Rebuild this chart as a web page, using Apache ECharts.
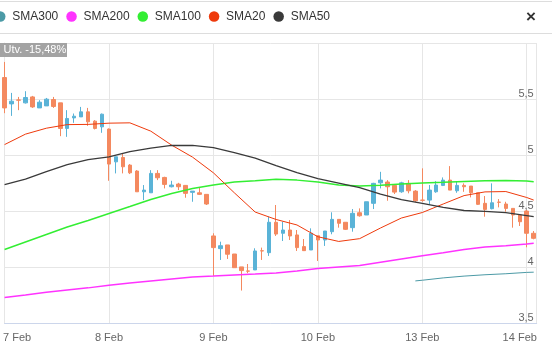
<!DOCTYPE html>
<html><head><meta charset="utf-8">
<script src="https://cdn.jsdelivr.net/npm/echarts@6/dist/echarts.min.js"></script>
<style>html,body{margin:0;padding:0;background:#fff}#c{width:552px;height:349px}</style>
</head><body><div id="c"></div><script>
// ---- data ----
const dayLabels = ['7 Feb', '8 Feb', '9 Feb', '10 Feb', '13 Feb', '14 Feb'];
const barsPerDay = 15;
const candleOpen = [5.692,5.457,5.492,5.466,5.519,5.421,5.439,5.496,5.466,5.238,5.332,5.341,5.386,5.303,5.252,
  5.232,4.940,4.979,4.911,4.858,4.673,4.664,4.837,4.801,4.718,4.742,4.730,4.668,4.664,4.650,
  4.279,4.166,4.199,4.118,4.003,3.967,3.976,4.147,4.130,4.401,4.303,4.332,4.288,4.184,4.154,
  4.281,4.243,4.317,4.427,4.401,4.353,4.486,4.466,4.570,4.753,4.760,4.730,4.673,4.748,4.679,
  4.599,4.599,4.673,4.730,4.777,4.682,4.730,4.724,4.664,4.570,4.522,4.581,4.564,4.525,4.466,
  4.501,4.303];
const candleClose = [5.421,5.481,5.490,5.514,5.430,5.472,5.499,5.434,5.238,5.327,5.347,5.386,5.297,5.238,5.365,
  4.920,4.985,4.896,4.842,4.673,4.688,4.837,4.798,4.739,4.733,4.718,4.659,4.679,4.650,4.564,
  4.175,4.192,4.116,3.996,3.970,3.965,4.145,4.145,4.401,4.296,4.332,4.279,4.175,4.148,4.303,
  4.243,4.323,4.427,4.392,4.338,4.481,4.459,4.584,4.748,4.777,4.718,4.670,4.753,4.682,4.593,
  4.597,4.688,4.733,4.777,4.688,4.730,4.718,4.664,4.561,4.516,4.575,4.579,4.525,4.466,4.406,
  4.303,4.258];
const candleLow = [5.374,5.350,5.401,5.460,5.421,5.421,5.439,5.421,5.169,5.163,5.288,5.341,5.261,5.229,5.199,
  4.771,4.837,4.837,4.831,4.673,4.599,4.664,4.777,4.703,4.712,4.688,4.620,4.584,4.644,4.555,
  3.922,4.065,4.074,3.996,3.792,3.947,3.976,4.065,4.101,4.279,4.234,4.243,4.145,4.148,4.154,
  4.056,4.190,4.294,4.353,4.332,4.317,4.451,4.466,4.519,4.703,4.593,4.653,4.664,4.659,4.579,
  4.584,4.561,4.664,4.724,4.688,4.664,4.673,4.623,4.555,4.451,4.516,4.534,4.495,4.353,4.368,
  4.178,4.249];
const candleHigh = [5.831,5.555,5.519,5.570,5.528,5.490,5.510,5.519,5.466,5.401,5.371,5.430,5.421,5.312,5.371,
  5.238,4.985,5.015,4.920,4.866,4.733,4.866,4.866,4.807,4.771,4.753,4.733,4.679,4.709,4.650,
  4.303,4.228,4.199,4.118,4.003,4.029,4.169,4.175,4.451,4.555,4.406,4.421,4.332,4.252,4.347,
  4.281,4.323,4.490,4.427,4.401,4.519,4.525,4.584,4.753,4.851,4.777,4.730,4.762,4.777,4.688,
  4.882,4.733,4.768,4.801,4.902,4.762,4.748,4.724,4.664,4.635,4.748,4.608,4.584,4.525,4.466,
  4.510,4.323];
const smaIdx = [0,3,6,9,12,15,18,21,24,27,30,33,36,39,42,45,48,51,54,57,60,63,66,69,72,75,76];
const sma20  = [5.094,5.187,5.240,5.272,5.274,5.285,5.288,5.214,5.089,4.982,4.842,4.664,4.492,4.426,4.377,4.272,4.230,4.255,4.350,4.439,4.488,4.564,4.639,4.672,4.675,4.622,4.599];
const sma50  = [4.737,4.786,4.853,4.915,4.960,4.985,5.031,5.062,5.087,5.086,5.067,5.022,4.973,4.906,4.844,4.791,4.751,4.711,4.653,4.604,4.570,4.533,4.506,4.499,4.488,4.461,4.451];
const sma100 = [4.158,4.225,4.292,4.359,4.417,4.479,4.541,4.604,4.657,4.702,4.733,4.760,4.771,4.784,4.777,4.760,4.733,4.724,4.731,4.742,4.751,4.757,4.764,4.771,4.773,4.770,4.762];
const sma200 = [3.731,3.753,3.776,3.798,3.816,3.840,3.860,3.878,3.896,3.914,3.921,3.930,3.939,3.949,3.967,3.989,4.003,4.016,4.045,4.074,4.102,4.129,4.158,4.181,4.191,4.207,4.214];
const sma300Idx = [59,60,63,66,69,72,75,76];
const sma300 = [3.878,3.884,3.905,3.921,3.933,3.942,3.954,3.956];
const legendNames = ['SMA300', 'SMA200', 'SMA100', 'SMA20', 'SMA50'];
const changeLabel = 'Utv. -15,48%';

// ---- chart ----
const FONT = '"Liberation Sans", Arial, sans-serif';
const UP = '#5ab3d7', DOWN = '#f4895f';
const candles = candleOpen.map((o, i) => [i, o, candleClose[i], candleLow[i], candleHigh[i]]);
const pairs = (idx, vals) => idx.map((x, k) => [x, vals[k]]);
function smaSeries(name, idx, vals, color, width) {
  return { name, type: 'line', data: pairs(idx, vals), symbol: 'none', z: 5,
    itemStyle: { color }, lineStyle: { color, width }, silent: true };
}
const chart = echarts.init(document.getElementById('c'), null, { renderer: 'canvas' });
chart.setOption({
  animation: false,
  backgroundColor: '#fff',
  textStyle: { fontFamily: FONT },
  grid: { left: 1.7, right: 15.3, top: 43, bottom: 25.7 },
  legend: {
    data: legendNames, left: -5, top: 10.5, padding: 0, icon: 'circle',
    itemWidth: 14, itemHeight: 10.5, itemGap: 8,
    itemStyle: { borderWidth: 0 },
    textStyle: { fontSize: 12, color: '#333', fontFamily: FONT }
  },
  xAxis: {
    type: 'value', min: 0, max: 76.43, interval: barsPerDay,
    axisLine: { show: true, lineStyle: { color: '#ccd6eb', width: 1 } },
    axisTick: { show: false },
    splitLine: { show: true, lineStyle: { color: '#e6e6e6', width: 1 } },
    axisLabel: {
      margin: 9, fontSize: 11, color: '#666', fontFamily: FONT,
      showMinLabel: true, showMaxLabel: false,
      formatter: function (v) {
        if (Math.abs(v % barsPerDay) > 1e-6) return '';
        const k = Math.round(v / barsPerDay);
        const t = dayLabels[k];
        if (t === undefined) return '';
        if (k === 0) return '{first|' + t + '}';
        if (k === dayLabels.length - 1) return '{last|' + t + '}';
        return t;
      },
      rich: {
        first: { padding: [0, 0, 0, 25], fontSize: 11, color: '#666', fontFamily: FONT },
        last: { padding: [0, 14, 0, 0], fontSize: 11, color: '#666', fontFamily: FONT }
      }
    }
  },
  yAxis: {
    type: 'value', position: 'right', min: 3.5, max: 6.0, interval: 0.5,
    axisLine: { show: true, lineStyle: { color: '#e6e6e6', width: 1 } },
    axisTick: { show: false },
    splitLine: { show: true, lineStyle: { color: '#e6e6e6', width: 1 } },
    axisLabel: {
      inside: true, margin: 3, verticalAlign: 'bottom', fontSize: 11, color: '#666', fontFamily: FONT,
      formatter: v => (v >= 6 ? '' : String(v).replace('.', ','))
    }
  },
  series: [
    {
      type: 'candlestick', name: 'price', data: candles, encode: { x: 0, y: [1, 2, 3, 4] },
      barWidth: 4, z: 3, silent: true,
      itemStyle: { color: UP, color0: DOWN, borderColor: UP, borderColor0: DOWN, borderWidth: 1 }
    },
    smaSeries('SMA300', sma300Idx, sma300, '#4c9aa6', 1),
    smaSeries('SMA200', smaIdx, sma200, '#ff33ff', 1.5),
    smaSeries('SMA100', smaIdx, sma100, '#33ee33', 1.5),
    smaSeries('SMA20', smaIdx, sma20, '#ee3a0c', 1),
    smaSeries('SMA50', smaIdx, sma50, '#3a3a3a', 1.3)
  ],
  graphic: [
    { type: 'line', silent: true, shape: { x1: 0, y1: 1.5, x2: 552, y2: 1.5 }, style: { stroke: '#dddddd', lineWidth: 1 } },
    { type: 'line', silent: true, shape: { x1: 0, y1: 33.5, x2: 552, y2: 33.5 }, style: { stroke: '#dddddd', lineWidth: 1 } },
    { type: 'text', silent: true, left: 526, top: 9, style: { text: '×', font: 'bold 17px ' + FONT, fill: '#333' } },
    { type: 'rect', silent: true, shape: { x: 0, y: 43, width: 67, height: 14 }, style: { fill: '#a3a3a3' }, z: 20 },
    { type: 'text', silent: true, x: 3.5, y: 50.3, z: 21, style: { text: changeLabel, font: '11px ' + FONT, fill: '#fff', verticalAlign: 'middle' } }
  ]
});
</script></body></html>
